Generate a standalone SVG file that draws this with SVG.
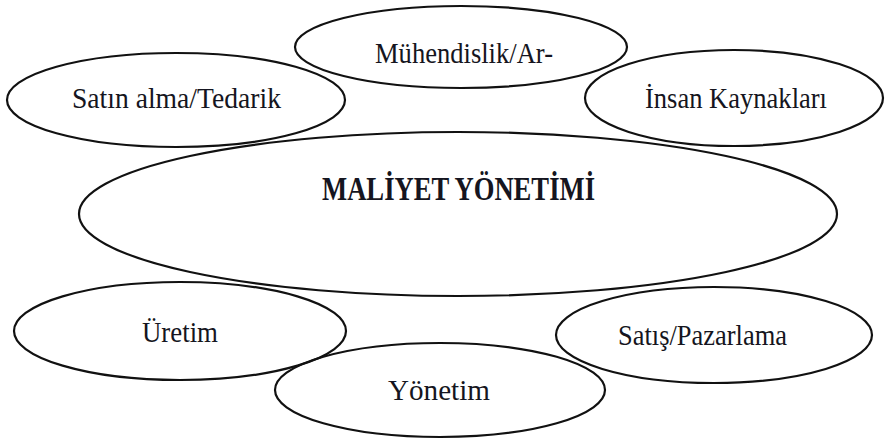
<svg xmlns="http://www.w3.org/2000/svg" width="885" height="442" viewBox="0 0 885 442">
<style>
.e{fill:none;stroke:#111;stroke-width:2.2}
.t{font-family:"Liberation Serif","DejaVu Serif","Noto Serif",serif;font-size:29px;fill:#151520}
.b{font-weight:bold;font-size:34px}
</style>
<rect width="885" height="442" fill="#fff"/>
<g id="maliyet"><ellipse class="e" cx="458" cy="214" rx="379" ry="82"/><text class="t b" x="322" y="200" textLength="273" lengthAdjust="spacingAndGlyphs">MALİYET YÖNETİMİ</text></g>
<g id="satinalma"><ellipse class="e" cx="176" cy="100" rx="169" ry="47"/><text class="t" x="72" y="108" textLength="209" lengthAdjust="spacingAndGlyphs">Satın alma/Tedarik</text></g>
<g id="muhendislik"><ellipse class="e" cx="461" cy="47" rx="166" ry="41"/><text class="t" x="375" y="63" textLength="178" lengthAdjust="spacingAndGlyphs">Mühendislik/Ar-</text></g>
<g id="insan"><ellipse class="e" cx="734" cy="98" rx="149" ry="48"/><text class="t" x="645" y="108" textLength="182" lengthAdjust="spacingAndGlyphs">İnsan Kaynakları</text></g>
<g id="uretim"><ellipse class="e" cx="180" cy="331" rx="166" ry="49"/><text class="t" x="142" y="342" textLength="76" lengthAdjust="spacingAndGlyphs">Üretim</text></g>
<g id="yonetim"><ellipse class="e" cx="440" cy="390" rx="165" ry="47"/><text class="t" x="388" y="400" textLength="102" lengthAdjust="spacingAndGlyphs">Yönetim</text></g>
<g id="satis"><ellipse class="e" cx="714" cy="335" rx="158" ry="48"/><text class="t" x="618" y="345" textLength="169" lengthAdjust="spacingAndGlyphs">Satış/Pazarlama</text></g>
<g id="connectors"></g>
</svg>
